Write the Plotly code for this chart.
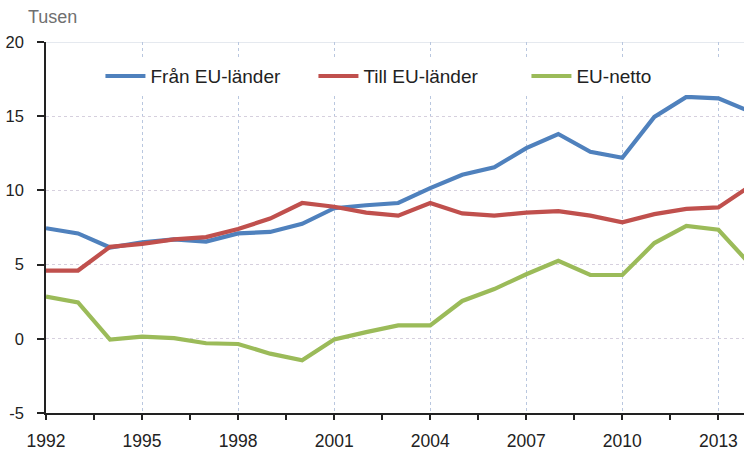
import plotly.graph_objects as go

years = list(range(1992, 2015))
fran_eu = [7.45, 7.1, 6.15, 6.5, 6.7, 6.55, 7.1, 7.2, 7.75, 8.8, 9.0, 9.15, 10.15, 11.05, 11.55, 12.85, 13.8, 12.6, 12.2, 14.95, 16.3, 16.2, 15.3]
till_eu = [4.6, 4.6, 6.2, 6.4, 6.7, 6.85, 7.4, 8.1, 9.15, 8.9, 8.5, 8.3, 9.15, 8.45, 8.3, 8.5, 8.6, 8.3, 7.85, 8.4, 8.75, 8.85, 10.3]
eu_netto = [2.85, 2.45, -0.05, 0.15, 0.05, -0.3, -0.35, -1.0, -1.45, -0.05, 0.45, 0.9, 0.9, 2.55, 3.35, 4.35, 5.25, 4.3, 4.3, 6.45, 7.6, 7.35, 5.0]

series_names = ["Från EU-länder", "Till EU-länder", "EU-netto"]
series_values = [fran_eu, till_eu, eu_netto]
series_colors = ["#4F81BD", "#C0504D", "#9BBB59"]

x_ticks = list(range(1992, 2014, 3))
y_ticks = [-5, 0, 5, 10, 15, 20]
y_ticklabels = ["-5", "0", "5", "10", "15", "20"]

font_family = "Liberation Sans, Arial, sans-serif"

fig = go.Figure()
for name, vals, col in zip(series_names, series_values, series_colors):
    fig.add_trace(go.Scatter(x=years, y=vals, name=name, mode="lines",
                             line=dict(color=col, width=4.2)))

fig.update_layout(
    width=744, height=451,
    margin=dict(l=46, r=0, t=42, b=38, autoexpand=False),
    paper_bgcolor="white", plot_bgcolor="white",
    font=dict(family=font_family, size=16, color="#222222"),
    showlegend=True,
    legend=dict(orientation="h", x=0.078, y=0.908, xanchor="left", yanchor="middle",
                bgcolor="white", font=dict(size=19, color="#222222"),
                itemwidth=40, tracegroupgap=0, entrywidth=158, entrywidthmode="pixels"),
    xaxis=dict(range=[1992, 2013.8], tickmode="array", tickvals=x_ticks,
               showline=True, linecolor="#222222", linewidth=1.5,
               ticks="outside", ticklen=5, tickcolor="#222222", tickwidth=1.5,
               showgrid=True, gridcolor="#b9c7df", griddash="dot", gridwidth=1,
               zeroline=False, tickfont=dict(size=17.5),
               ticklabelstandoff=6,
               minor=dict(dtick=1.5, tick0=1992, ticks="outside", ticklen=5,
                          tickcolor="#222222", tickwidth=1.5, showgrid=False)),
    yaxis=dict(range=[-5, 20], tickmode="array", tickvals=y_ticks, ticktext=y_ticklabels,
               showline=True, linecolor="#222222", linewidth=1.5,
               ticks="outside", ticklen=7, tickcolor="#222222", tickwidth=1.5,
               showgrid=True, gridcolor="#d6d0de", griddash="dot", gridwidth=1,
               zeroline=False, tickfont=dict(size=16.5), ticklabelstandoff=10),
    shapes=[dict(type="line", xref="paper", yref="y", x0=0, x1=1, y0=20, y1=20,
                 line=dict(color="#dde2ea", width=1.5), layer="below")],
    annotations=[dict(text="Tusen", xref="paper", yref="paper", x=-0.028, y=1.0,
                      xanchor="left", yanchor="bottom", yshift=13, showarrow=False,
                      font=dict(size=18, color="#707070"))],
)

fig.write_html("out.html", config={"displayModeBar": False},
               post_script="document.body.style.margin='0';document.body.style.overflow='hidden';")
